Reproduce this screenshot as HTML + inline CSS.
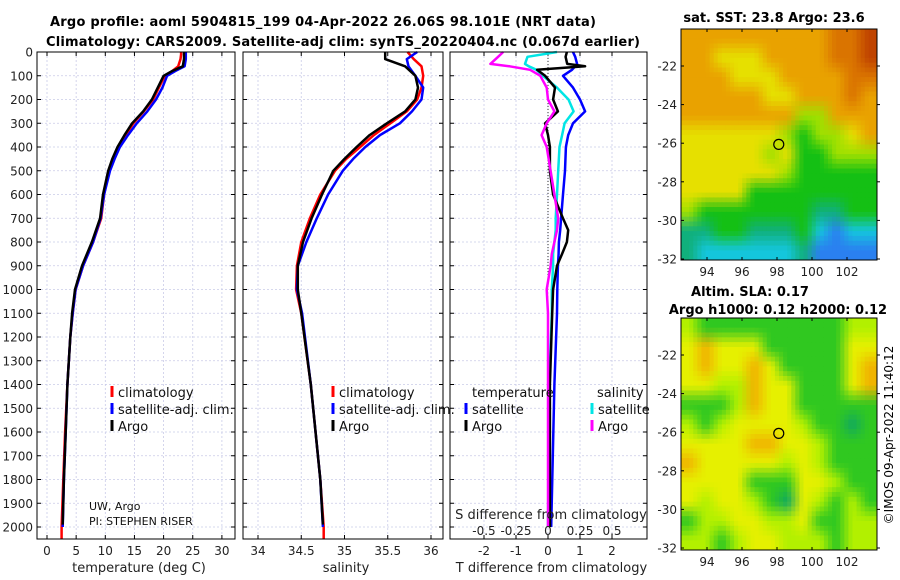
<!DOCTYPE html>
<html><head><meta charset="utf-8"><style>
html,body{margin:0;padding:0;background:#fff;}
svg{display:block;font-family:"DejaVu Sans","Liberation Sans",sans-serif;}
</style></head><body>
<svg id="fig" width="900" height="580" viewBox="0 0 900 580">
<text x="323" y="26" font-size="13" font-weight="bold" text-anchor="middle" textLength="546">Argo profile: aoml 5904815_199 04-Apr-2022 26.06S 98.101E (NRT data)</text>
<text x="343" y="46" font-size="13" font-weight="bold" text-anchor="middle" textLength="594">Climatology: CARS2009. Satellite-adj clim: synTS_20220404.nc (0.067d earlier)</text>
<g id="plots"></g>
<g id="maps"></g>
<text transform="translate(893,435) rotate(-90)" font-size="12" text-anchor="middle">©IMOS 09-Apr-2022 11:40:12</text>
</svg>
<script>
// ---- data ----
const tDepth = [0,10,30,60,80,100,150,200,250,300,350,400,450,500,600,700,800,900,1000,1100,1200,1400,1600,1800,2000];
const tArgo  = [23.5,23.5,23.5,23.3,21.5,20.0,19.0,18.0,16.5,14.6,13.3,12.1,11.2,10.5,9.6,9.1,7.7,6.0,4.8,4.3,4.0,3.5,3.2,2.9,2.7];
const tClim  = [23.0,23.0,22.9,22.5,21.5,20.2,19.2,18.2,16.6,14.8,13.5,12.2,11.3,10.6,9.8,9.3,7.9,6.2,4.9,4.4,4.0,3.5,3.1,2.8,2.5];
const tSat   = [23.8,23.8,23.8,23.6,22.0,20.6,19.8,18.7,17.2,15.4,13.9,12.5,11.6,10.8,9.8,9.2,7.9,6.2,4.9,4.4,4.0,3.5,3.2,2.9,2.7];
const sDepth = [0,30,60,100,150,200,250,300,350,400,450,500,600,700,800,900,1000,1100,1400,1800,2000];
const sArgo  = [35.47,35.47,35.70,35.82,35.85,35.82,35.70,35.49,35.29,35.14,35.00,34.87,34.74,34.62,34.52,34.46,34.46,34.50,34.61,34.72,34.75];
const sClim  = [35.73,35.80,35.89,35.91,35.89,35.84,35.72,35.53,35.34,35.18,35.02,34.89,34.72,34.60,34.50,34.45,34.44,34.50,34.61,34.72,34.76];
const sSat   = [35.84,35.72,35.74,35.82,35.91,35.89,35.78,35.64,35.41,35.24,35.10,34.98,34.81,34.68,34.56,34.46,34.45,34.51,34.61,34.72,34.75];
const dDepth = [0,20,50,60,75,100,150,200,250,300,350,400,500,600,700,750,800,850,900,1000,1100,1400,2000];
const dtArgo = [0.59,0.55,0.6,1.16,-0.34,-0.09,0.22,0.16,0.31,-0.09,0.0,0.06,0.06,0.16,0.47,0.63,0.59,0.44,0.28,0.16,0.13,0.06,0.06];
const dtSat  = [0.78,0.85,0.91,0.85,0.75,0.47,0.78,1.0,1.16,0.78,0.63,0.56,0.53,0.47,0.41,0.38,0.34,0.33,0.31,0.29,0.28,0.2,0.1];
const dsSat  = [0.07,-0.16,-0.18,-0.15,-0.09,-0.04,0.07,0.16,0.2,0.13,0.11,0.09,0.08,0.07,0.06,0.06,0.05,0.04,0.04,0.03,0.03,0.01,0.0];
const dsArgo = [-0.35,-0.39,-0.45,-0.3,-0.14,-0.06,-0.01,0.0,0.05,-0.01,-0.05,-0.01,0.02,0.05,0.08,0.07,0.05,0.03,0.02,-0.01,0.0,0.0,0.0];
const depthTicks = [0,100,200,300,400,500,600,700,800,900,1000,1100,1200,1300,1400,1500,1600,1700,1800,1900,2000];
const tTicks = [0,5,10,15,20,25,30];
const sTicks = [34,34.5,35,35.5,36];
const dtTicks = [-2,-1,0,1,2];
const dsTicks = [-0.5,-0.25,0,0.25,0.5];
const lonTicks = [94,96,98,100,102];
const latTicks = [-22,-24,-26,-28,-30,-32];
const sstGrid = [
"OOOOOOOOODDR","OOYYYOOOODDR","OOOYYYOOOODD","OOOOOYYOOODO","OOOOOOOLLOOO","YYYYYYLGLLYO",
"YYYYYLYGGLLL","YYYYYYLGGGGG","YYYYGGGGGGGG","LGGGGGGGTTGG","TTGGTTTGCBCC","TCCCCCCTBBBB"];
const slaGrid = [
"LGGGGGGGGGLL","YOYYYGGGGGYY","YOYYOYGGGGYO","YYLLOYYGGGYO","GGGLOYYGGGGG","LGLYYYYLGGTG",
"YYYYOOYYLGGG","OYYYYYLYLGGG","YYYYGGGYYLGG","YLYYLGTYLGLG","GLLYYLLYGGLL","LLGLYYLLLGLL"];
const argoLon = 98.101, argoLat = -26.06;
// ---- helpers ----
const NS='http://www.w3.org/2000/svg';
const plots=document.getElementById('plots'), maps=document.getElementById('maps');
function mk(tag,attrs,parent){const e=document.createElementNS(NS,tag);for(const k in attrs)e.setAttribute(k,attrs[k]);(parent||plots).appendChild(e);return e;}
const yTop=52, yPer=475/2000, yBot=539;
const yD=d=>yTop+d*yPer;
const panels=[
 {x0:37,x1:235,sx:v=>47+5.83*v,ticks:tTicks,label:'temperature (deg C)',name:'temperature-panel'},
 {x0:243,x1:443,sx:v=>258+86.5*(v-34),ticks:sTicks,label:'salinity',name:'salinity-panel'},
 {x0:450,x1:647,sx:v=>548+32*v,ticks:dtTicks,label:'T difference from climatology',name:'difference-panel'}];
panels.forEach((p,pi)=>{
 const g=mk('g',{});
 
 
 depthTicks.forEach(d=>{
  const l=mk('line',{x1:p.x0,x2:p.x1,y1:yD(d),y2:yD(d),stroke:'#c9cbe8','stroke-width':0.8,'stroke-dasharray':'2,2'},g);
  
  
  mk('line',{x1:p.x0,x2:p.x0+4,y1:yD(d),y2:yD(d),stroke:'#000'},g);
  mk('line',{x1:p.x1,x2:p.x1-4,y1:yD(d),y2:yD(d),stroke:'#000'},g);
  if(pi===0){const t=mk('text',{x:33,y:yD(d)+4.5,'font-size':12,'text-anchor':'end',fill:'#222'},g);t.textContent=d;
   
   }
 });
 p.ticks.forEach(v=>{
  const x=p.sx(v);
  const l=mk('line',{x1:x,x2:x,y1:yTop,y2:yBot,stroke:'#c9cbe8','stroke-width':0.8,'stroke-dasharray':'2,2'},g);
  
  
  mk('line',{x1:x,x2:x,y1:yBot,y2:yBot-4,stroke:'#000'},g);
  mk('line',{x1:x,x2:x,y1:yTop,y2:yTop+4,stroke:'#000'},g);
  const t=mk('text',{x:x,y:555,'font-size':12,'text-anchor':'middle',fill:'#222'},g);t.textContent=v;
  
  
 });
 const xl=mk('text',{x:(p.x0+p.x1)/2+3,y:572,'font-size':13,'text-anchor':'middle',fill:'#222'},g);xl.textContent=p.label;
 
 
});
function line(depths,vals,sx,color,name,w){
 const pts=depths.map((d,i)=>sx(vals[i]).toFixed(1)+','+yD(d).toFixed(1)).join(' ');
 const e=mk('polyline',{points:pts,fill:'none',stroke:color,'stroke-width':w||2.5,'stroke-linejoin':'round'});
 
 
}
const z=mk('line',{x1:548,x2:548,y1:yD(0),y2:yD(1000),stroke:'#333','stroke-width':1,'stroke-dasharray':'1,2'});


const P=panels;
line(tDepth.concat([2050]),tClim.concat([2.5]),P[0].sx,'#ff0000','temperature-climatology-line');
line(tDepth,tSat,P[0].sx,'#0000ff','temperature-satellite-line');
line(tDepth.slice(0,-1).concat([1990]),tArgo,P[0].sx,'#000000','temperature-argo-line');
line(sDepth.concat([2050]),sClim.concat([34.76]),P[1].sx,'#ff0000','salinity-climatology-line');
line(sDepth,sSat,P[1].sx,'#0000ff','salinity-satellite-line');
line(sDepth.slice(0,-1).concat([1990]),sArgo,P[1].sx,'#000000','salinity-argo-line');
const dsx=v=>548+128*v;
line(dDepth,dsSat,dsx,'#00e5e5','salinity-satellite-diff-line');
line(dDepth,dtSat,P[2].sx,'#0000ff','temperature-satellite-diff-line');
line(dDepth,dtArgo,P[2].sx,'#000000','temperature-argo-diff-line');
line(dDepth,dsArgo,dsx,'#ff00ff','salinity-argo-diff-line');
const st=mk('text',{x:551,y:519,'font-size':13,'text-anchor':'middle',fill:'#222'});st.textContent='S difference from climatology';


dsTicks.forEach(v=>{const t=mk('text',{x:dsx(v),y:535,'font-size':12,'text-anchor':'middle',fill:'#222'});t.textContent=v;
 
 });
panels.forEach(p=>{const r=mk('rect',{x:p.x0,y:yTop,width:p.x1-p.x0,height:yBot-yTop,fill:'none',stroke:'#000','stroke-width':1});
 
 });
function legend(x,y,color,text){
 const g=mk('g',{});
 
 
 if(color)mk('line',{x1:x,x2:x,y1:y-11,y2:y,stroke:color,'stroke-width':3},g);
 const t=mk('text',{x:color?x+6:x,y:y,'font-size':13,fill:'#111'},g);t.textContent=text;
}
legend(112,397,'#ff0000','climatology');legend(112,414,'#0000ff','satellite-adj. clim.');legend(112,431,'#000','Argo');
legend(333,397,'#ff0000','climatology');legend(333,414,'#0000ff','satellite-adj. clim.');legend(333,431,'#000','Argo');
legend(472,397,null,'temperature');legend(466,414,'#0000ff','satellite');legend(466,431,'#000','Argo');
legend(597,397,null,'salinity');legend(592,414,'#00e5e5','satellite');legend(592,431,'#ff00ff','Argo');
const c1=mk('text',{x:89,y:510,'font-size':11,fill:'#111'});c1.textContent='UW, Argo';

const c2=mk('text',{x:89,y:525,'font-size':11,fill:'#111'});c2.textContent='PI: STEPHEN RISER';

// ---- maps ----
const sstCol={O:'#e9a200',D:'#da7400',R:'#c04400',Y:'#e6e000',L:'#9fe000',G:'#14c014',T:'#10b07c',C:'#14c6dc',B:'#2a80f0'};
const slaCol={Y:'#e6f000',O:'#f0b400',L:'#b2f000',G:'#30c820',T:'#10a860'};
const mx0=681,mx1=877,lonX=lon=>777+17.5*(lon-98);
function hex(c){return [1,3,5].map(i=>parseInt(c.substr(i,2),16));}
function drawMap(y0,y1,grid,cols,title,name,latY){
 const g=mk('g',{},maps);
 
 
 const nr=grid.length,nc=grid[0].length,sub=4,NR=nr*sub,NC=nc*sub;
 const cw=(mx1-mx0)/NC,ch=(y1-y0)/NR;
 const val=(r,c)=>hex(cols[grid[Math.max(0,Math.min(nr-1,r))][Math.max(0,Math.min(nc-1,c))]]);
 for(let R=0;R<NR;R++)for(let C=0;C<NC;C++){
  const fr=(R+0.5)/sub-0.5, fc=(C+0.5)/sub-0.5;
  const r0=Math.floor(fr),c0=Math.floor(fc),ar=fr-r0,ac=fc-c0;
  const a=val(r0,c0),b=val(r0,c0+1),c=val(r0+1,c0),d=val(r0+1,c0+1);
  const col=[0,1,2].map(k=>Math.round(a[k]*(1-ar)*(1-ac)+b[k]*(1-ar)*ac+c[k]*ar*(1-ac)+d[k]*ar*ac));
  mk('rect',{x:(mx0+C*cw).toFixed(2),y:(y0+R*ch).toFixed(2),width:(cw+0.5).toFixed(2),height:(ch+0.5).toFixed(2),fill:'rgb('+col.join(',')+')'},g);
 }
 mk('rect',{x:mx0,y:y0,width:mx1-mx0,height:y1-y0,fill:'none',stroke:'#000'},g);
 lonTicks.forEach(v=>{const x=lonX(v);mk('line',{x1:x,x2:x,y1:y1,y2:y1-3,stroke:'#000'},g);mk('line',{x1:x,x2:x,y1:y0,y2:y0+3,stroke:'#000'},g);
  const t=mk('text',{x:x,y:y1+16,'font-size':12,'text-anchor':'middle',fill:'#222'},g);t.textContent=v;
  });
 latTicks.forEach(v=>{const y=latY(v);mk('line',{x1:mx1,x2:mx1+3,y1:y,y2:y,stroke:'#000'},g);mk('line',{x1:mx0,x2:mx0+3,y1:y,y2:y,stroke:'#000'},g);
  const t=mk('text',{x:677,y:y+4.5,'font-size':12,'text-anchor':'end',fill:'#222'},g);t.textContent=v;
  });
 const ci=mk('circle',{cx:lonX(argoLon),cy:latY(argoLat),r:5,fill:'none',stroke:'#000','stroke-width':1.2},g);
 
 title.forEach(tt=>{const t=mk('text',{x:tt[1],y:tt[2],'font-size':13,'font-weight':'bold','text-anchor':'middle'},g);t.textContent=tt[0];
  });
}
drawMap(29,260,sstGrid,sstCol,[['sat. SST: 23.8 Argo: 23.6',774,22]],'sst-map',lat=>66+19.3*(-22-lat));
drawMap(318,550,slaGrid,slaCol,[['Altim. SLA: 0.17',750,296],['Argo h1000: 0.12 h2000: 0.12',778,314]],'sla-map',lat=>355+19.3*(-22-lat));
</script>
</body></html>
